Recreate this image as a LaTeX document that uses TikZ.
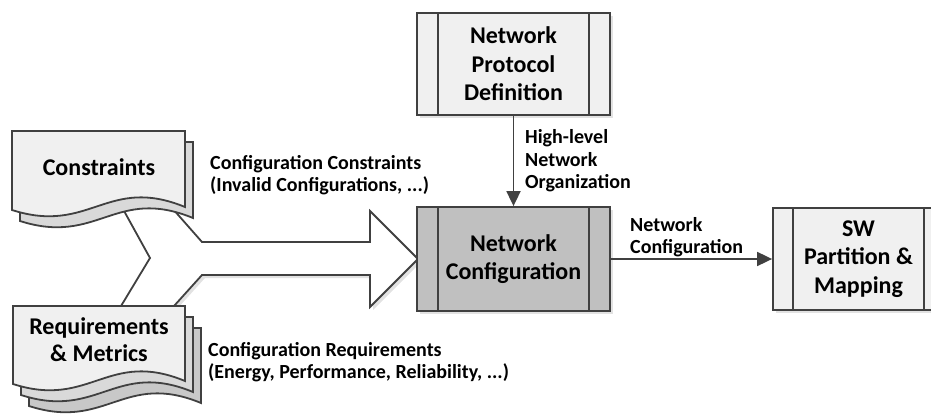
\documentclass[tikz,border=0pt]{standalone}
\usepackage{fontspec}
\setmainfont{Carlito}
\usetikzlibrary{arrows.meta}
\definecolor{edgec}{HTML}{404040}
\definecolor{lightfill}{HTML}{F0F0F0}
\definecolor{midfill}{HTML}{D9D9D9}
\definecolor{darkfill}{HTML}{C8C8C8}
\definecolor{ncfill}{HTML}{C0C0C0}
\definecolor{shadowc}{HTML}{E2E2E2}
\newcommand\docpage[5]{\path[docline, fill=#5] (#1,#2) -- ({#1+#3},#2) -- ({#1+#3},{#2+#4-3}) .. controls ({#1+0.55*#3},{#2+#4-35}) and ({#1+0.45*#3},{#2+#4+25}) .. (#1,{#2+#4}) -- cycle;}
\tikzset{
  docline/.style={draw=edgec, line width=1.8pt, line join=miter},
  procbox/.style={draw=edgec, line width=1.8pt, rectangle, align=center, inner sep=0pt,
     font=\fontsize{24}{28.5}\selectfont\bfseries},
  doctext/.style={align=center, inner sep=0pt, font=\fontsize{24}{27}\selectfont\bfseries},
  lbl/.style={align=left, inner sep=0pt, anchor=west, font=\fontsize{20}{22.5}\selectfont\bfseries},
  conn/.style={draw=edgec, line width=1.8pt, -{Triangle[length=15pt,width=14pt]}},
}
\begin{document}
\begin{tikzpicture}[x=1pt, y=-1pt]
\useasboundingbox (0,0) rectangle (931,417);
\clip (0,0) rectangle (931,417);
% big merging arrow
\path[fill=shadowc] (168,203) -- (205,245) -- (373,245) -- (373,214) -- (421,262) -- (373,310) -- (373,278) -- (205,278) -- (168,319) -- (118,319) -- (153,261) -- (121,203) -- cycle;
\path[docline, fill=white] (165,200) -- (202,242) -- (370,242) -- (370,211) -- (418,259) -- (370,307) -- (370,275) -- (202,275) -- (165,316) -- (115,316) -- (150,258) -- (118,200) -- cycle;
% constraints document
\docpage{20}{142}{173}{79}{midfill}
\docpage{12}{131}{173}{79}{lightfill}
\node[doctext] (cons) at (99,167) {Constraints};
% requirements document
\docpage{29}{328}{172}{78}{darkfill}
\docpage{21}{317}{172}{78}{midfill}
\docpage{13}{306}{172}{78}{lightfill}
\node[doctext] (req) at (99,340) {Requirements\\\& Metrics};
% process boxes
\path[fill=shadowc] (420,16) rectangle (613,118);
\path[fill=shadowc] (420,210) rectangle (613,314);
\path[fill=shadowc] (776,211) rectangle (947,313);
\node[procbox, fill=lightfill, minimum width=193pt, minimum height=102pt] (npd) at (513.5,64) {Network\\Protocol\\Definition};
\node[procbox, fill=ncfill, minimum width=193pt, minimum height=104pt] (nc) at (513.5,259) {Network\\Configuration};
\node[procbox, fill=lightfill, minimum width=171pt, minimum height=102pt] (sw) at (858.5,259) {SW\\Partition \&\\Mapping};
\foreach \n/\d in {npd/22, nc/22, sw/21}{
  \draw[edgec, line width=1.8pt] ([xshift=\d pt]\n.north west) -- ([xshift=\d pt]\n.south west);
  \draw[edgec, line width=1.8pt] ([xshift=-\d pt]\n.north east) -- ([xshift=-\d pt]\n.south east);
}
% connectors
\draw[conn] (npd) -- (nc);
\draw[conn] (nc) -- (sw);
% labels
\node[lbl] (lcons) at (210,175) {Configuration Constraints\\(Invalid Configurations, ...)};
\node[lbl] (lhl) at (525,161) {High-level\\Network\\Organization};
\node[lbl] (lnc) at (630,237) {Network\\Configuration};
\node[lbl] (lreq) at (208,362) {Configuration Requirements\\(Energy, Performance, Reliability, ...)};
\end{tikzpicture}
\end{document}
